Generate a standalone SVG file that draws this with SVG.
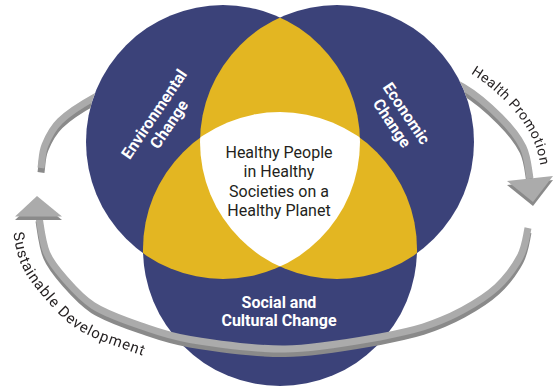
<svg xmlns="http://www.w3.org/2000/svg" xmlns:xlink="http://www.w3.org/1999/xlink" width="553" height="386" viewBox="0 0 553 386">
<style>
  .navy { fill: #3b4279; }
  .yellow { fill: #e3b622; }
  .white { fill: #ffffff; }
  .face { fill: none; stroke: #ababab; stroke-width: 7; stroke-linecap: butt; }
  .side { fill: none; stroke: #8a8a8a; stroke-width: 7; stroke-linecap: butt; }
  .headface { fill: #ababab; }
  .headside { fill: #8a8a8a; }
  .lbl { font-family: Roboto, "Liberation Sans", sans-serif; font-weight: 700; font-size: 16px; fill: #ffffff; text-anchor: middle; }
  .core { font-family: Roboto, "Liberation Sans", sans-serif; font-size: 16px; fill: #231f20; text-anchor: middle; }
  .outer { font-family: Roboto, "Liberation Sans", sans-serif; font-size: 14px; fill: #231f20; letter-spacing: 0.6px; }
  .outer2 { font-family: Roboto, "Liberation Sans", sans-serif; font-size: 15px; fill: #231f20; letter-spacing: 0.9px; }
</style>
<defs>
  <clipPath id="cL"><circle cx="223" cy="142" r="137"/></clipPath>
  <clipPath id="cR"><circle cx="337" cy="142" r="137"/></clipPath>
  <mask id="behind" maskUnits="userSpaceOnUse" x="0" y="0" width="553" height="386">
    <rect x="0" y="0" width="553" height="386" fill="#fff"/>
    <circle cx="223" cy="142" r="137" fill="#000"/>
    <circle cx="337" cy="142" r="137" fill="#000"/>
  </mask>
  <path id="arcTL" d="M160,66 C137.5,74.7 111.7,87.8 95,97 C78.3,106.2 68.3,113 60,121 C51.7,129 48.2,137.2 45,145 C41.8,152.8 42.25,159.3 41,168"/>
  <path id="arcTR" d="M410,64 C428.8,70.2 448,78.2 463,87 C478,95.8 490,107 500,117 C510,127 518,136.75 523,147 C528,157.25 528.3,169.7 530,178.5"/>
  <path id="arcB" d="M39,216.5 C40.5,225.8 42.2,242.4 46.7,253 C51.2,263.6 58.1,271.2 65.8,280 C73.5,288.8 81.5,298 93,305.5 C105.4,313.5 123.8,320 140,325.5 C156.2,331 167,335.5 190,339.5 C214.2,343.5 253.3,349.3 285,349 C316.7,348.7 357,341 380,337 C398,333.5 410,331 423,327 C436.8,322.5 450.7,316.7 463,310 C475.3,303.3 487.5,295.8 497,287 C506.5,278.2 514.8,266.8 520,257 C525.2,247.2 526,237.5 528,228"/>
  <polygon id="headL" points="15,216.5 62,216.5 37,196"/>
  <polygon id="headR" points="507,181 553,176 533,202"/>
  <path id="tpHP" d="M470.6,73.6 C486.6,83 499.6,95 510,106.3 C520.6,117.6 528.6,129 533.8,141.5 C539,153.5 540.6,165.6 541.8,176.2 L545,240"/>
  <path id="tpSD" d="M11.4,221 C13.3,232.2 15.35,251 20.9,263.9 C26.45,276.8 35.1,287.4 44.7,298.4 C54.3,309.4 64.1,321.05 78.5,329.9 C92.9,338.75 113.2,345.4 131,351.5 C148.8,357.6 159.7,362.35 185.4,366.6"/>
</defs>

<rect x="0" y="0" width="553" height="386" fill="#ffffff"/>

<g id="env">
  <circle class="navy" cx="223" cy="142" r="137"/>
</g>
<g id="econ">
  <circle class="navy" cx="337" cy="142" r="137"/>
</g>
<g id="social">
  <circle class="navy" cx="280" cy="249" r="137"/>
</g>

<g id="overlaps">
  <circle class="yellow" cx="337" cy="142" r="137" clip-path="url(#cL)"/>
  <circle class="yellow" cx="280" cy="249" r="137" clip-path="url(#cL)"/>
  <circle class="yellow" cx="280" cy="249" r="137" clip-path="url(#cR)"/>
  <g clip-path="url(#cL)">
    <circle class="white" cx="280" cy="249" r="137" clip-path="url(#cR)"/>
  </g>
</g>

<g id="env-label">
  <text class="lbl" transform="translate(158.7,117.2) rotate(-56)"><tspan x="0" y="0">Environmental</tspan><tspan x="0" y="18">Change</tspan></text>
</g>
<g id="econ-label">
  <text class="lbl" transform="translate(402,116.5) rotate(56)"><tspan x="0" y="0">Economic</tspan><tspan x="0" y="17.5">Change</tspan></text>
</g>
<g id="social-label">
  <text class="lbl"><tspan x="279" y="307.5">Social and</tspan><tspan x="279" y="325.7">Cultural Change</tspan></text>
</g>
<g id="core">
  <text class="core"><tspan x="279" y="158.3">Healthy People</tspan><tspan x="279" y="177.3">in Healthy</tspan><tspan x="279" y="196.5">Societies on a</tspan><tspan x="279" y="215.5">Healthy Planet</tspan></text>
</g>

<g id="connectors">
  <g mask="url(#behind)">
    <use xlink:href="#arcTL" class="side" transform="translate(0,4.5)"/>
    <use xlink:href="#arcTL" class="face"/>
    <use xlink:href="#arcTR" class="side" transform="translate(0,4.5)"/>
    <use xlink:href="#arcTR" class="face"/>
  </g>
  <use xlink:href="#headR" class="headside" transform="translate(0,4)"/>
  <use xlink:href="#headR" class="headface"/>
  <use xlink:href="#arcB" class="side" transform="translate(0,4.5)"/>
  <use xlink:href="#arcB" class="face"/>
  <use xlink:href="#headL" class="headside" transform="translate(0,3.5)"/>
  <use xlink:href="#headL" class="headface"/>
  <text class="outer"><textPath xlink:href="#tpHP" startOffset="0">Health Promotion</textPath></text>
  <text class="outer2"><textPath xlink:href="#tpSD" startOffset="12">Sustainable Development</textPath></text>
</g>
</svg>
